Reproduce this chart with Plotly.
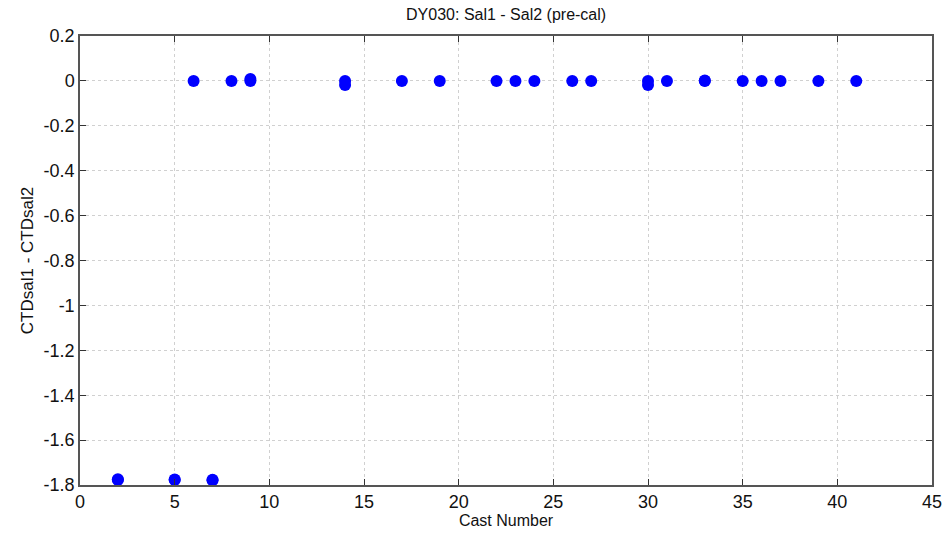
import plotly.graph_objects as go

cast = [2, 2, 5, 5, 7, 7, 6, 8, 9, 9, 14, 14, 17, 19, 22, 23, 24, 26, 27, 30, 30, 31, 33, 33, 35, 36, 37, 39, 41]
diff = [-1.778, -1.774, -1.778, -1.775, -1.779, -1.777, 0.0, 0.0, 0.0, 0.008, 0.0, -0.018, 0.0, 0.0, 0.0, 0.0, 0.0, 0.0, 0.0, 0.0, -0.018, 0.0, 0.0, 0.002, 0.0, 0.0, 0.0, 0.0, 0.0]

x_ticks = [0, 5, 10, 15, 20, 25, 30, 35, 40, 45]
y_ticks = [0.2, 0, -0.2, -0.4, -0.6, -0.8, -1, -1.2, -1.4, -1.6, -1.8]

FONT = "Liberation Sans, Arial"

fig = go.Figure()
fig.add_trace(go.Scatter(
    x=cast, y=diff, mode="markers",
    marker=dict(color="#0000FF", size=12, line=dict(width=0)),
    showlegend=False,
))

axis_common = dict(
    showline=True, linecolor="#555555", linewidth=1.5, mirror="ticks",
    ticks="inside", ticklen=6, tickcolor="#333333",
    showgrid=True, gridcolor="#d0d0d0", griddash="dot", gridwidth=1,
    zeroline=False, automargin=False,
    tickfont=dict(family=FONT, size=18, color="#111111"),
)

fig.update_layout(
    width=946, height=541,
    margin=dict(l=80, r=14, t=36, b=56),
    paper_bgcolor="white", plot_bgcolor="white",
    title=dict(text="DY030: Sal1 - Sal2 (pre-cal)", x=0.535, xanchor="center", y=0.983, yanchor="top",
               font=dict(family=FONT, size=16, color="#111111")),
    xaxis=dict(range=[0, 45], tickvals=x_ticks, ticktext=[str(v) for v in x_ticks],
               title=dict(text="Cast Number", standoff=2,
                          font=dict(family=FONT, size=16, color="#111111")),
               **axis_common),
    yaxis=dict(range=[-1.8, 0.2], tickvals=y_ticks, ticktext=[("%g" % v) for v in y_ticks],
               title=dict(text="CTDsal1 - CTDsal2", standoff=6,
                          font=dict(family=FONT, size=17, color="#111111")),
               **axis_common),
)

fig.write_html(
    "out.html",
    config={"displayModeBar": False},
    post_script="document.body.style.margin='0';document.body.style.overflow='hidden';",
)
